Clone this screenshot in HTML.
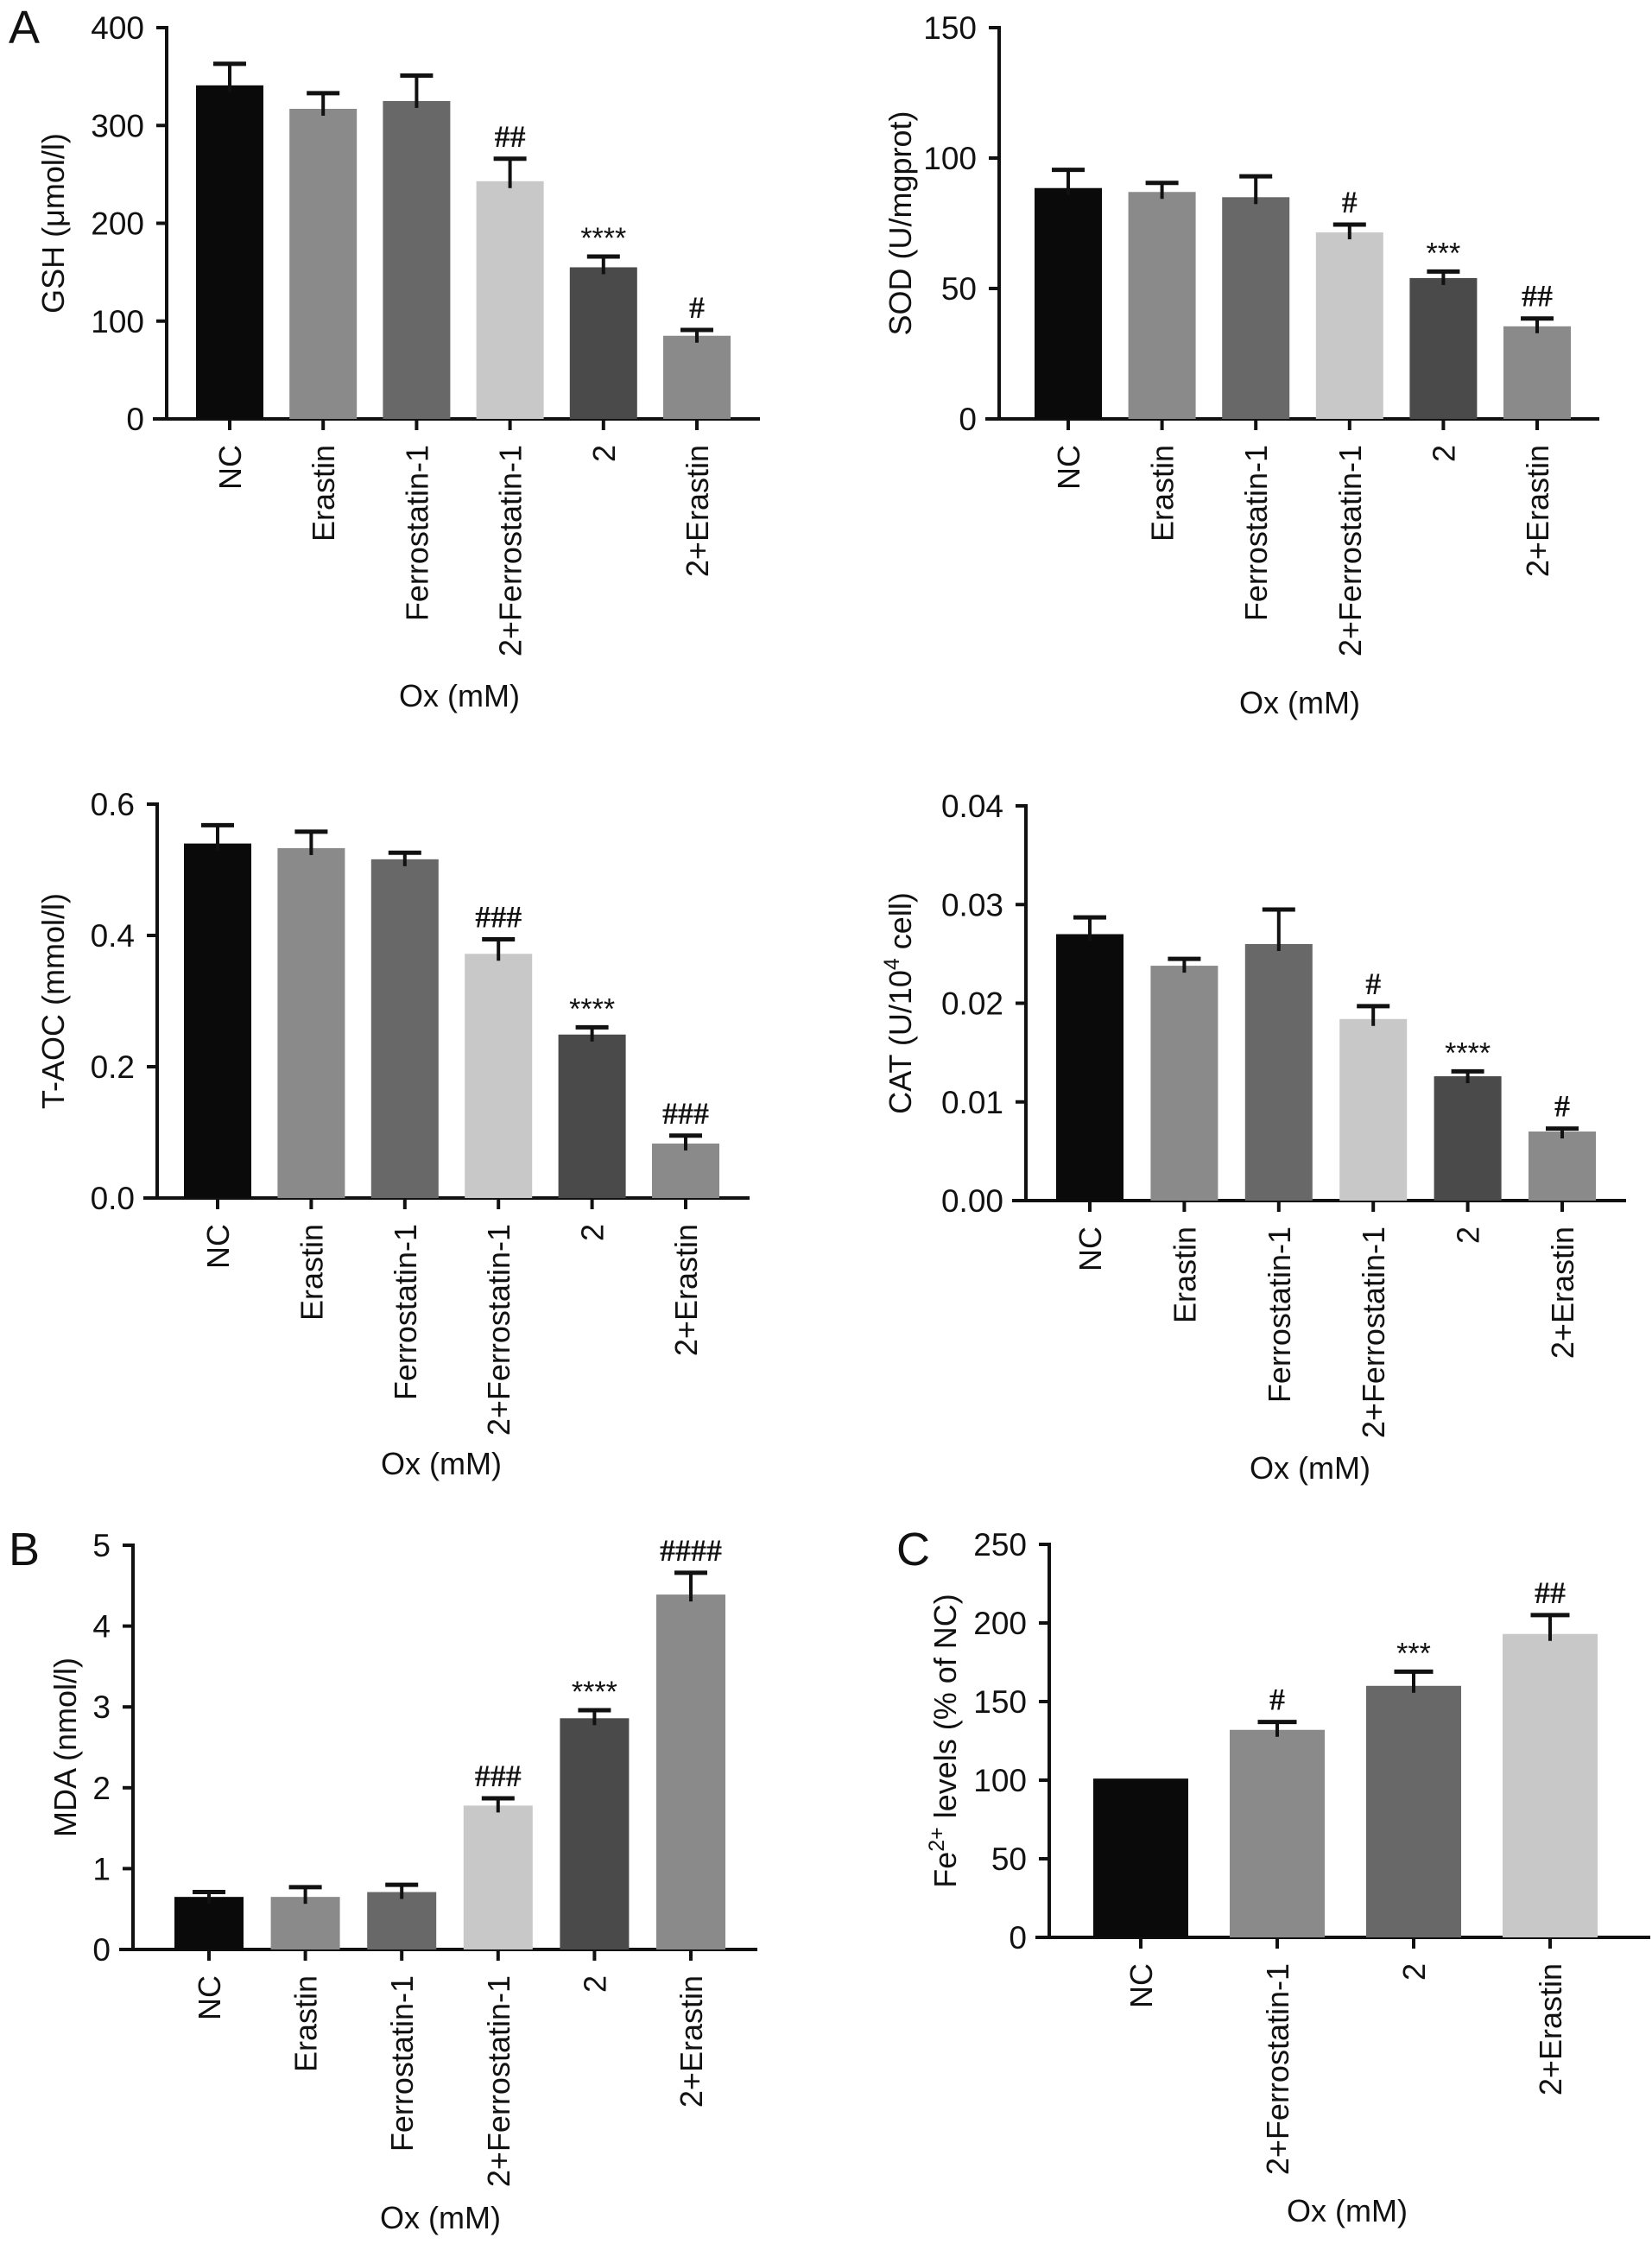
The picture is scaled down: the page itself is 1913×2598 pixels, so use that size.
<!DOCTYPE html>
<html><head><meta charset="utf-8">
<style>
html,body{margin:0;padding:0;background:#fff;}
svg{display:block;}
text{font-family:"Liberation Sans",Arial,sans-serif;fill:#111;}
.sig{font-family:"Liberation Serif","Times New Roman",serif;}
</style></head>
<body>
<svg id="fig" width="1913" height="2598" viewBox="0 0 1913 2598" xmlns="http://www.w3.org/2000/svg"></svg>
<script>
// ---- data ----
const catsSix = ["NC","Erastin","Ferrostatin-1","2+Ferrostatin-1","2","2+Erastin"];
const catsFour = ["NC","2+Ferrostatin-1","2","2+Erastin"];

const gshValues = [341, 317, 325, 243, 155, 85];
const gshErrors = [363, 333, 351, 266, 166, 91];
const gshSig = ["","","","##","****","#"];
const gshTicks = [0,100,200,300,400];
const gshTickLabels = ["0","100","200","300","400"];

const sodValues = [88.5, 87, 85, 71.5, 54, 35.5];
const sodErrors = [95.5, 90.5, 93, 74.5, 56.5, 38.5];
const sodSig = ["","","","#","***","##"];
const sodTicks = [0,50,100,150];
const sodTickLabels = ["0","50","100","150"];

const taocValues = [0.540, 0.533, 0.516, 0.372, 0.249, 0.083];
const taocErrors = [0.568, 0.558, 0.526, 0.394, 0.260, 0.095];
const taocSig = ["","","","###","****","###"];
const taocTicks = [0,0.2,0.4,0.6];
const taocTickLabels = ["0.0","0.2","0.4","0.6"];

const catValues = [0.0270, 0.0238, 0.0260, 0.0184, 0.0126, 0.0070];
const catErrors = [0.0287, 0.0245, 0.0295, 0.0197, 0.0131, 0.0073];
const catSig = ["","","","#","****","#"];
const catTicks = [0,0.01,0.02,0.03,0.04];
const catTickLabels = ["0.00","0.01","0.02","0.03","0.04"];

const mdaValues = [0.65, 0.65, 0.71, 1.78, 2.86, 4.39];
const mdaErrors = [0.71, 0.77, 0.80, 1.87, 2.96, 4.66];
const mdaSig = ["","","","###","****","####"];
const mdaTicks = [0,1,2,3,4,5];
const mdaTickLabels = ["0","1","2","3","4","5"];

const feValues = [101, 132, 160, 193];
const feErrors = [101, 137, 169, 205];
const feSig = ["","#","***","##"];
const feTicks = [0,50,100,150,200,250];
const feTickLabels = ["0","50","100","150","200","250"];

const colorsSix = ["#0a0a0a","#8a8a8a","#686868","#c8c8c8","#4a4a4a","#8a8a8a"];
const colorsFour = ["#0a0a0a","#8a8a8a","#686868","#c8c8c8"];

// ---- drawing ----
const NS = "http://www.w3.org/2000/svg";
const svg = document.getElementById("fig");
function mk(tag, attrs, parent){
  const e = document.createElementNS(NS, tag);
  for (const k in attrs) e.setAttribute(k, attrs[k]);
  (parent||svg).appendChild(e);
  return e;
}

function panel(cfg, cats, values, errors, sig, ticks, tickLabels, colors){
  const g = mk("g", {});
  
  
  const ymax = ticks[ticks.length-1];
  const yScale = v => cfg.y0 - (v/ymax)*(cfg.y0 - cfg.yTop);
  const xScale = i => cfg.c0 + i*cfg.step;

  const ya = mk("line", {x1:cfg.ax, y1:cfg.yTop-2, x2:cfg.ax, y2:cfg.y0, stroke:"#111","stroke-width":4}, g);
  
  
  ticks.forEach((t,i)=>{
    const y = yScale(t);
    const tk = mk("line", {x1:cfg.ax-12, y1:y, x2:cfg.ax, y2:y, stroke:"#111","stroke-width":4}, g);
    
    
    const tl = mk("text", {x:cfg.ax-26, y:y+13, "text-anchor":"end","font-size":37}, g);
    tl.textContent = tickLabels[i];
    
    
  });
  const xa = mk("line", {x1:cfg.ax-16, y1:cfg.y0, x2:cfg.xEnd, y2:cfg.y0, stroke:"#111","stroke-width":4}, g);
  
  

  cats.forEach((c,i)=>{
    const cx = xScale(i);
    const top = yScale(values[i]);
    const bar = mk("rect", {x:cx-cfg.bw/2, y:top, width:cfg.bw, height:cfg.y0-top, fill:colors[i]}, g);
    
    
    const et = yScale(errors[i]);
    if (errors[i] > values[i]) {
      const ev = mk("line", {x1:cx, y1:et, x2:cx, y2:top+8, stroke:"#111","stroke-width":4}, g);
      
      
      const ec = mk("line", {x1:cx-cfg.cap/2, y1:et, x2:cx+cfg.cap/2, y2:et, stroke:"#111","stroke-width":5}, g);
      
      
    }
    if (sig[i]) {
      const isStar = sig[i].indexOf("*")>=0;
      const st = mk("text", {x:cx, y: isStar ? et-10 : et-14, "text-anchor":"middle","font-size": isStar ? 34 : 36, "class": isStar ? "" : "sig", "font-weight": isStar ? "normal" : "bold"}, g);
      st.textContent = sig[i];
      
      
    }
    const tk = mk("line", {x1:cx, y1:cfg.y0, x2:cx, y2:cfg.y0+13, stroke:"#111","stroke-width":4}, g);
    
    
    const lx = cx + 13, ly = cfg.y0 + 30;
    const cl = mk("text", {x:lx, y:ly, "text-anchor":"end","font-size":36, transform:`rotate(-90 ${lx} ${ly})`}, g);
    cl.textContent = c;
    
    
  });

  const ty = (cfg.yTop + cfg.y0)/2;
  const yt = mk("text", {x:cfg.titleX, y:ty, "text-anchor":"middle","font-size":36, transform:`rotate(-90 ${cfg.titleX} ${ty})`}, g);
  
  
  if (cfg.titleHTML) {
    cfg.titleHTML.forEach(p=>{
      const ts = mk("tspan", p.sup ? {"baseline-shift":"super","font-size":25} : {}, yt);
      ts.textContent = p.t;
    });
  } else yt.textContent = cfg.title;

  const xt = mk("text", {x:cfg.oxX, y:cfg.oxY, "text-anchor":"middle","font-size":36}, g);
  xt.textContent = "Ox (mM)";
  
  

  if (cfg.letter) {
    const pl = mk("text", {x:cfg.letterX, y:cfg.letterY, "font-size":54}, g);
    pl.textContent = cfg.letter;
    
    
  }
}

panel({name:"gsh-chart", ax:193, yTop:32, y0:485, c0:266, step:108.2, bw:78, cap:38, xEnd:880,
  title:"GSH (\u03bcmol/l)", titleX:74, oxX:532, oxY:818, letter:"A", letterX:10, letterY:50},
  catsSix, gshValues, gshErrors, gshSig, gshTicks, gshTickLabels, colorsSix);

panel({name:"sod-chart", ax:1157, yTop:32, y0:485, c0:1237, step:108.6, bw:78, cap:38, xEnd:1852,
  title:"SOD (U/mgprot)", titleX:1055, oxX:1505, oxY:826},
  catsSix, sodValues, sodErrors, sodSig, sodTicks, sodTickLabels, colorsSix);

panel({name:"taoc-chart", ax:182, yTop:931, y0:1387, c0:252, step:108.4, bw:78, cap:38, xEnd:868,
  title:"T-AOC (mmol/l)", titleX:74, oxX:511, oxY:1707},
  catsSix, taocValues, taocErrors, taocSig, taocTicks, taocTickLabels, colorsSix);

panel({name:"cat-chart", ax:1188, yTop:933, y0:1390, c0:1262, step:109.4, bw:78, cap:38, xEnd:1883,
  titleHTML:[{t:"CAT (U/10"},{t:"4",sup:true},{t:" cell)"}], titleX:1055, oxX:1517, oxY:1712},
  catsSix, catValues, catErrors, catSig, catTicks, catTickLabels, colorsSix);

panel({name:"mda-chart", ax:154, yTop:1789, y0:2257, c0:242, step:111.6, bw:80, cap:38, xEnd:877,
  title:"MDA (nmol/l)", titleX:88, oxX:510, oxY:2580, letter:"B", letterX:10, letterY:1812},
  catsSix, mdaValues, mdaErrors, mdaSig, mdaTicks, mdaTickLabels, colorsSix);

panel({name:"fe-chart", ax:1215, yTop:1788, y0:2243, c0:1321, step:158, bw:110, cap:45, xEnd:1911,
  titleHTML:[{t:"Fe"},{t:"2+",sup:true},{t:" levels (% of NC)"}], titleX:1107, oxX:1560, oxY:2572, letter:"C", letterX:1038, letterY:1812},
  catsFour, feValues, feErrors, feSig, feTicks, feTickLabels, colorsFour);
</script>
</body></html>
